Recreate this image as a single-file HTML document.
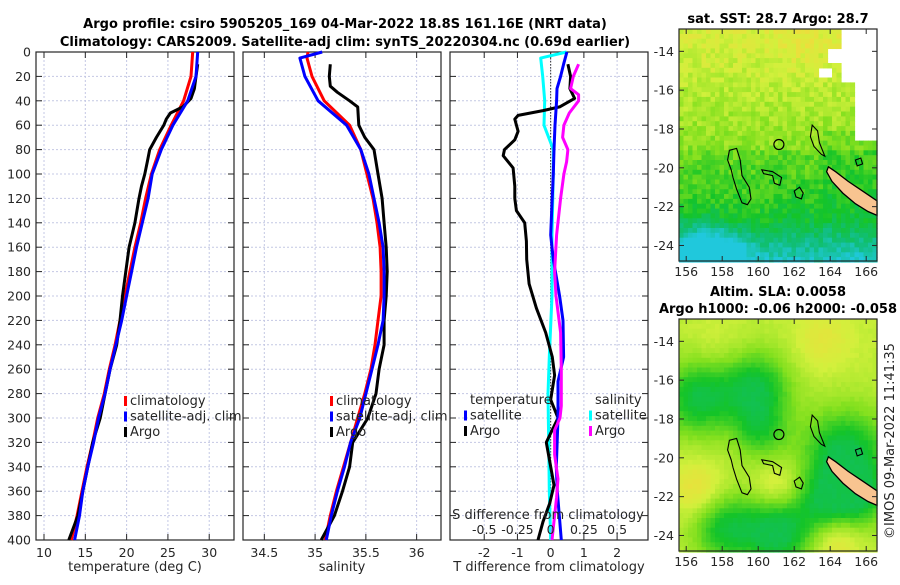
<!DOCTYPE html>
<html><head><meta charset="utf-8">
<style>
html,body{margin:0;padding:0;background:#fff;}
svg text{font-family:"DejaVu Sans","Liberation Sans",sans-serif;fill:#262626;}
.t{font-weight:bold;font-size:13px;fill:#000;}
.tk{font-size:12.5px;}
</style></head>
<body>
<svg id="fig" width="900" height="580" viewBox="0 0 900 580" xmlns="http://www.w3.org/2000/svg">
<text class="t" x="345" y="28" text-anchor="middle">Argo profile: csiro 5905205_169 04-Mar-2022 18.8S 161.16E (NRT data)</text>
<text class="t" x="345" y="46" text-anchor="middle">Climatology: CARS2009. Satellite-adj clim: synTS_20220304.nc (0.69d earlier)</text>
<g id="p1"></g>
<g id="p2"></g>
<g id="p3"></g>
<g id="m1"></g>
<g id="m2"></g>
<text class="t" x="778" y="23" text-anchor="middle">sat. SST: 28.7 Argo: 28.7</text>
<text class="t" x="778" y="296" text-anchor="middle">Altim. SLA: 0.0058</text>
<text class="t" x="778" y="313" text-anchor="middle">Argo h1000: -0.06 h2000: -0.058</text>
<text font-size="13" transform="translate(894,441) rotate(-90)" text-anchor="middle">©IMOS 09-Mar-2022 11:41:35</text>
</svg>
<script>
// ---------- data ----------
const tempClimDepth=[0,20,40,60,80,100,120,140,160,180,200,220,240,260,280,300,320,340,360,380,400];
const tempClim=[28.0,27.8,26.9,25.4,24.0,23.0,22.3,21.7,21.0,20.4,19.8,19.2,18.6,17.9,17.3,16.5,15.9,15.2,14.6,14.0,13.3];
const tempSat=[28.6,28.4,27.4,25.6,24.2,23.1,22.6,21.9,21.2,20.6,20.0,19.4,18.7,18.0,17.4,16.6,16.0,15.3,14.7,14.3,13.7];
const argoDepth=[10,20,30,38,45,50,55,60,70,80,90,100,110,120,140,160,180,200,220,240,260,280,300,320,340,360,380,400];
const argoTemp=[28.6,28.4,28.2,27.8,26.8,25.3,24.8,24.5,23.6,22.8,22.5,22.2,21.8,21.5,21.0,20.3,19.9,19.5,19.2,18.8,18.0,17.4,16.8,15.9,15.3,14.7,14.1,13.0];
const salDepth=[0,5,20,40,60,80,100,120,140,160,180,200,220,240,260,280,300,320,340,360,380,400];
const salClim=[34.93,34.92,34.97,35.09,35.34,35.45,35.51,35.57,35.61,35.64,35.65,35.65,35.62,35.59,35.55,35.49,35.42,35.35,35.28,35.21,35.15,35.10];
const salSat=[35.07,34.85,34.90,35.03,35.31,35.45,35.53,35.58,35.63,35.67,35.68,35.68,35.67,35.62,35.56,35.50,35.44,35.35,35.29,35.22,35.16,35.11];
const argoSalDepth=[10,20,28,33,40,45,60,70,80,100,120,140,160,180,200,220,240,260,280,300,320,340,360,380,400];
const argoSal=[35.15,35.14,35.15,35.22,35.34,35.42,35.43,35.49,35.58,35.62,35.66,35.68,35.70,35.71,35.70,35.68,35.68,35.63,35.60,35.52,35.37,35.34,35.27,35.19,35.06];
const dTsatDepth=[0,10,20,30,40,60,80,100,130,150,170,200,220,250,270,300,340,360,380,400];
const dTsat=[0.49,0.39,0.30,0.19,0.18,0.13,0.10,0.08,0.03,0.0,0.08,0.27,0.37,0.39,0.22,0.22,0.17,0.2,0.26,0.32];
const dTargoDepth=[10,20,30,38,45,48,52,55,65,72,80,85,95,110,120,130,140,155,170,190,210,230,250,265,285,300,320,340,355,370,385,400];
const dTargo=[0.52,0.60,0.58,0.72,0.27,-0.23,-0.98,-1.08,-0.98,-1.08,-1.39,-1.43,-1.13,-1.08,-1.08,-1.03,-0.78,-0.73,-0.72,-0.65,-0.43,-0.15,0.05,0.12,0.0,0.22,-0.13,0.0,0.1,-0.03,-0.23,-0.38];
const dSsatDepth=[0,5,20,40,60,80,100,150,200,250,280,320,360,400];
const dSsat=[0.12,-0.075,-0.06,-0.045,-0.05,0.02,0.02,0.01,0.01,-0.01,-0.02,-0.015,-0.01,0.0];
const dSargoDepth=[10,20,30,35,40,50,60,70,80,90,100,120,150,180,200,230,260,290,300,310,330,350,365,380,400];
const dSargo=[0.21,0.17,0.15,0.21,0.21,0.14,0.10,0.09,0.13,0.12,0.10,0.075,0.045,0.03,0.04,0.075,0.08,0.08,0.07,0.03,0.03,0.055,0.045,0.03,0.01];
const depthTicks=[0,20,40,60,80,100,120,140,160,180,200,220,240,260,280,300,320,340,360,380,400];
const tempTicks=[10,15,20,25,30];
const salTicks=[34.5,35,35.5,36];
const dTTicks=[-2,-1,0,1,2];
const dSTicks=[-0.5,-0.25,0,0.25,0.5];
const dSTickLabels=["-0.5","-0.25","0","0.25","0.5"];
const lonTicks=[156,158,160,162,164,166];
const latTicks=[-14,-16,-18,-20,-22,-24];

const NS="http://www.w3.org/2000/svg";
function mk(tag,attrs,parent){const e=document.createElementNS(NS,tag);for(const k in attrs)e.setAttribute(k,attrs[k]);parent.appendChild(e);return e;}
const Y0=52,Y1=540;
function yD(d){return Y0+(Y1-Y0)*d/400;}

function panel(g,x0,x1,xmin,xmax,xticks,xlabels,title,ylab){
  const sx=v=>x0+(v-xmin)/(xmax-xmin)*(x1-x0);
  xticks.forEach(v=>{const l=mk('line',{x1:sx(v),x2:sx(v),y1:Y0,y2:Y1,stroke:'#c4c8e4','stroke-dasharray':'2,2','stroke-width':1},g);
    });
  depthTicks.forEach(d=>{const l=mk('line',{x1:x0,x2:x1,y1:yD(d),y2:yD(d),stroke:'#c4c8e4','stroke-dasharray':'2,2','stroke-width':1},g);
    });
  const tk=mk('g',{stroke:'#262626','stroke-width':1},g);
  depthTicks.forEach(d=>{mk('line',{x1:x0,x2:x0+6,y1:yD(d),y2:yD(d)},tk);mk('line',{x1:x1-6,x2:x1,y1:yD(d),y2:yD(d)},tk);
    if(ylab){const t=mk('text',{x:x0-5,y:yD(d)+4.5,'text-anchor':'end',class:'tk'},g);t.textContent=d;
      }});
  xticks.forEach((v,i)=>{mk('line',{x1:sx(v),x2:sx(v),y1:Y1,y2:Y1-6},tk);mk('line',{x1:sx(v),x2:sx(v),y1:Y0,y2:Y0+6},tk);
    const t=mk('text',{x:sx(v),y:557,'text-anchor':'middle',class:'tk'},g);t.textContent=xlabels[i];
    });
  const b=mk('rect',{x:x0,y:Y0,width:x1-x0,height:Y1-Y0,fill:'none',stroke:'#262626','stroke-width':1.2},g);
  
  const at=mk('text',{x:(x0+x1)/2,y:571,'text-anchor':'middle','font-size':13},g);at.textContent=title;
  
  return sx;
}
function line(g,sx,vals,depths,color,name){
  const pts=vals.map((v,i)=>sx(v).toFixed(1)+','+yD(depths[i]).toFixed(1)).join(' ');
  const p=mk('polyline',{points:pts,fill:'none',stroke:color,'stroke-width':3,'stroke-linejoin':'round'},g);
  
}
function legend(g,x,y,items){
  items.forEach((it,i)=>{
    const yy=y+i*15.5;
    if(it[1]){const m=mk('rect',{x:x,y:yy-9,width:3,height:10,fill:it[1]},g);
      }
    const t=mk('text',{x:x+(it[1]?6:0),y:yy,'font-size':13},g);t.textContent=it[0];
    
  });
}
// panel 1
const g1=document.getElementById('p1');
const sx1=panel(g1,36,234,9.03,33,tempTicks,tempTicks.map(String),'temperature (deg C)',true);
line(g1,sx1,tempClim,tempClimDepth,'#ff0000','climatology-temp-line');
line(g1,sx1,argoTemp,argoDepth,'#000000','argo-temp-line');
line(g1,sx1,tempSat,tempClimDepth,'#0000ff','satellite-temp-line');
legend(g1,124,405,[['climatology','#ff0000'],['satellite-adj. clim','#0000ff'],['Argo','#000000']]);
// panel 2
const g2=document.getElementById('p2');
const sx2=panel(g2,243,441,34.29,36.24,salTicks,salTicks.map(String),'salinity',false);
line(g2,sx2,salClim,salDepth,'#ff0000','climatology-sal-line');
line(g2,sx2,argoSal,argoSalDepth,'#000000','argo-sal-line');
line(g2,sx2,salSat,salDepth,'#0000ff','satellite-sal-line');
legend(g2,330,405,[['climatology','#ff0000'],['satellite-adj. clim','#0000ff'],['Argo','#000000']]);
// panel 3
const g3=document.getElementById('p3');
const sx3=panel(g3,450,648,-3.03,2.93,dTTicks,dTTicks.map(String),'T difference from climatology',false);
const sxS=v=>sx3(v*4);
const z=mk('line',{x1:sx3(0),x2:sx3(0),y1:Y0,y2:Y1,stroke:'#333','stroke-dasharray':'1.5,1.5','stroke-width':1},g3);

line(g3,sxS,dSsat,dSsatDepth,'#00ffff','sal-satellite-diff-line');
line(g3,sx3,dTargo,dTargoDepth,'#000000','temp-argo-diff-line');
line(g3,sx3,dTsat,dTsatDepth,'#0000ff','temp-satellite-diff-line');
line(g3,sxS,dSargo,dSargoDepth,'#ff00ff','sal-argo-diff-line');
legend(g3,470,404,[['temperature',null]]);
legend(g3,464,419.5,[['satellite','#0000ff'],['Argo','#000000']]);
legend(g3,595,404,[['salinity',null]]);
legend(g3,589,419.5,[['satellite','#00ffff'],['Argo','#ff00ff']]);
const st=mk('text',{x:548,y:519,'text-anchor':'middle','font-size':13},g3);st.textContent='S difference from climatology';

dSTicks.forEach((v,i)=>{const t=mk('text',{x:sxS(v),y:534,'text-anchor':'middle',class:'tk'},g3);t.textContent=dSTickLabels[i];
  });

// ---------- maps (background imagery) ----------
const sstBlobs=[[156.5,-24.3,-0.3,1.6],[158,-24.5,-0.25,1.5],[162,-23,-0.06,2],[162,-13.5,0.08,1.2],[165,-14,0.1,1]];
const slaBlobs=[[156.5,-16.8,-0.35,2.0],[159.8,-16.3,-0.35,1.9],[160,-18.6,-0.22,1.5],[164.7,-19.8,-0.4,2.4],[165.5,-22,-0.25,1.6],[161,-23.7,-0.4,1.9],[158,-23.5,-0.32,1.8],[163.5,-22.2,-0.22,1.5],[163.5,-13.8,0.12,1.6],[156.5,-21.5,0.18,1.4],[161,-21.4,0.15,1.3],[164.3,-24.3,0.15,1.3],[157.5,-14,0.05,1.5]];
function hsh(i,j){let h=(i*374761393+j*668265263)|0;h=(h^(h>>>13))*1274126177|0;return ((h^(h>>>16))>>>0)/4294967296;}
function ramp(v){
  const stops=[[0,[32,200,220]],[0.2,[16,190,120]],[0.38,[20,196,40]],[0.55,[130,224,30]],[0.72,[210,240,60]],[0.88,[240,220,60]],[1,[240,170,40]]];
  v=Math.max(0,Math.min(1,v));
  for(let k=1;k<stops.length;k++){if(v<=stops[k][0]){const a=stops[k-1],b=stops[k],f=(v-a[0])/(b[0]-a[0]);
    return 'rgb('+a[1].map((c,i)=>Math.round(c+(b[1][i]-c)*f)).join(',')+')';}}
  return 'rgb(240,170,40)';
}
function drawMap(gid,top,bot,kind){
  const g=document.getElementById(gid);
  const x0=679,x1=877,lon0=155.6,lon1=166.6;
  const latTop=-12.85, latBot=-24.8;
  const lx=l=>x0+(l-lon0)/(lon1-lon0)*(x1-x0);
  const ly=l=>top+(latTop-l)/(latTop-latBot)*(bot-top);
  const cw=0.25, img=mk('g',{},g);
  
  let i=0;
  for(let lo=lon0;lo<lon1;lo+=cw,i++){let j=0;for(let la=latTop;la>latBot;la-=cw,j++){
    let v;
    if(kind==='sst'){
      if((la>-18.5&&lo>165.3)||(la>-15.6&&lo>164.5)||(la>-14.6&&lo>163.6&&lo<165.5&&la<-13.7)||(la>-15.3&&lo>163.3&&la<-14.7&&lo<164))continue;
      v=0.66+0.03*(la+16)-(la<-19?0.06:0);
      if(la<-22.5)v-=0.12*(-22.5-la);
      sstBlobs.forEach(b=>{const d=((lo-b[0])**2+(la-b[1])**2)/(b[3]*b[3]);v+=b[2]*Math.exp(-d);});
      if(lo>163.5&&la<-18)v-=0.05;
      v+=(hsh(i,j)-0.5)*0.14;
    }else{
      v=0.68;
      slaBlobs.forEach(b=>{const d=((lo-b[0])**2+(la-b[1])**2)/(b[3]*b[3]);v+=b[2]*Math.exp(-d);});
      v=Math.max(v,0.3);
      v+=(hsh(i,j)-0.5)*0.03;
    }
    mk('rect',{x:lx(lo).toFixed(1),y:ly(la).toFixed(1),width:(cw/(lon1-lon0)*(x1-x0)+0.6).toFixed(2),height:(cw/(latTop-latBot)*(bot-top)+0.6).toFixed(2),fill:ramp(v)},img);
  }}
  const P=a=>a.map(p=>lx(p[0]).toFixed(1)+','+ly(p[1]).toFixed(1)).join(' ');
  const nc=mk('polygon',{points:P([[163.9,-19.95],[164.3,-20.2],[165,-20.7],[165.8,-21.2],[166.6,-21.7],[166.6,-22.45],[166.1,-22.25],[165.4,-21.85],[164.7,-21.3],[164.1,-20.7],[163.8,-20.2]]),fill:'#f8c490',stroke:'#000','stroke-width':1.3},g);
  
  const reefs=[
    [[158.4,-19.1],[158.8,-19.0],[159.0,-19.6],[159.1,-20.4],[159.5,-21.0],[159.6,-21.6],[159.4,-21.9],[159.1,-21.8],[158.8,-21.1],[158.6,-20.5],[158.5,-20.1],[158.3,-19.6]],
    [[163.0,-17.8],[163.3,-18.1],[163.4,-18.7],[163.7,-19.4],[163.5,-19.3],[163.1,-18.9],[162.9,-18.4]],
    [[160.2,-20.1],[160.8,-20.2],[161.3,-20.5],[161.2,-20.9],[160.9,-20.8],[160.8,-20.4],[160.3,-20.3]],
    [[162.0,-21.2],[162.3,-21.0],[162.5,-21.3],[162.4,-21.6],[162.1,-21.5]],
    [[165.4,-19.6],[165.7,-19.5],[165.8,-19.8],[165.5,-19.9]]
  ];
  reefs.forEach(r=>{const p=mk('polygon',{points:P(r),fill:'none',stroke:'#000','stroke-width':1.1},g);
    });
  const c=mk('circle',{cx:lx(161.15),cy:ly(-18.8),r:5,fill:'none',stroke:'#000','stroke-width':1.2},g);
  
  const bx=mk('rect',{x:x0,y:top,width:x1-x0,height:bot-top,fill:'none',stroke:'#262626','stroke-width':1.2},g);
  
  lonTicks.forEach(l=>{mk('line',{x1:lx(l),x2:lx(l),y1:bot,y2:bot-5,stroke:'#262626'},g);mk('line',{x1:lx(l),x2:lx(l),y1:top,y2:top+5,stroke:'#262626'},g);
    const t=mk('text',{x:lx(l),y:bot+15,'text-anchor':'middle',class:'tk'},g);t.textContent=l;
    });
  latTicks.forEach(l=>{mk('line',{x1:x0,x2:x0+5,y1:ly(l),y2:ly(l),stroke:'#262626'},g);mk('line',{x1:x1-5,x2:x1,y1:ly(l),y2:ly(l),stroke:'#262626'},g);
    const t=mk('text',{x:x0-5,y:ly(l)+4.5,'text-anchor':'end',class:'tk'},g);t.textContent=l;
    });
}
drawMap('m1',29,261,'sst');
drawMap('m2',319,551,'sla');
</script>
</body></html>
